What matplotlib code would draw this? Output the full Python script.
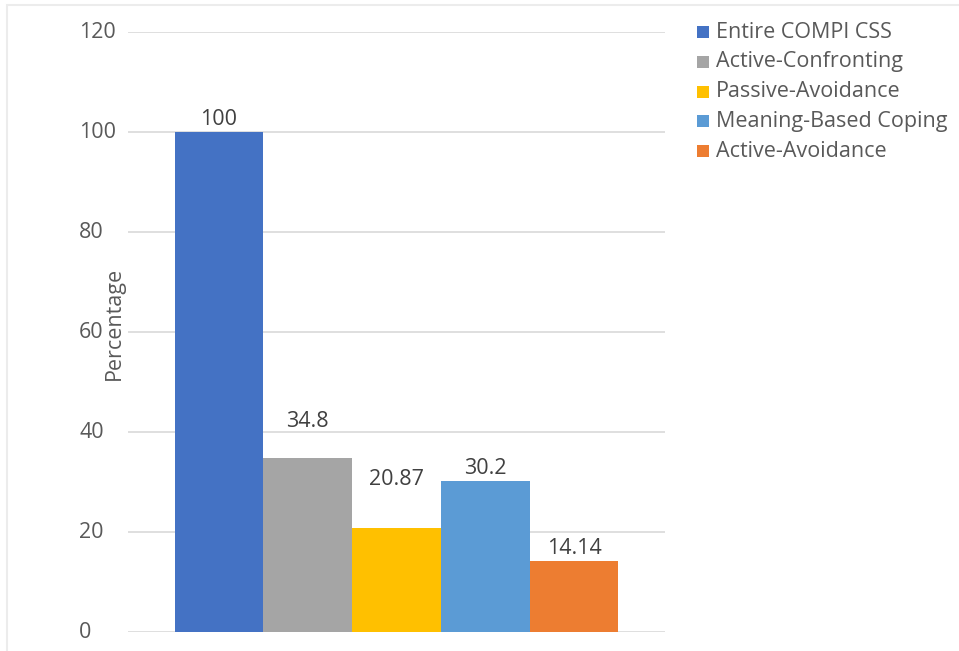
import matplotlib.pyplot as plt
from matplotlib.patches import Rectangle

categories = ["Entire COMPI CSS", "Active-Confronting", "Passive-Avoidance",
              "Meaning-Based Coping", "Active-Avoidance"]
values = [100, 34.8, 20.87, 30.2, 14.14]
value_labels = ["100", "34.8", "20.87", "30.2", "14.14"]
colors = ["#4472c4", "#a5a5a5", "#ffc000", "#5b9bd5", "#ed7d31"]
yticks = [0, 20, 40, 60, 80, 100, 120]

# some labels were dragged upwards in the original chart (offsets in points)
label_offsets = [9, 26.5, 35, 9, 9]

plt.rcParams['font.family'] = ['Open Sans', 'DejaVu Sans']
FS = 15.5
TXT = '#595959'

W, H = 959, 651
fig = plt.figure(figsize=(W / 100, H / 100), dpi=100)
ax = fig.add_axes([128 / W, 19 / H, 537 / W, 600 / H])

# light frame of the screenshot
fig.patches.append(Rectangle((7 / W, -0.01), 1.0, 1 - 5 / H + 0.01,
                             transform=fig.transFigure, fill=False,
                             edgecolor='#ececec', linewidth=1.5))

x = list(range(len(values)))
ax.bar(x, values, width=1.0, color=colors, zorder=3)

for xi, v, lab, off in zip(x, values, value_labels, label_offsets):
    ax.annotate(lab, (xi, v), xytext=(0, off), textcoords='offset points',
                ha='center', va='center', fontsize=FS, color='#404040')

ax.set_xlim(-1.025, 5.025)
ax.set_ylim(0, 120)
ax.set_yticks(yticks)
ax.set_yticklabels([])
ax.set_xticks([])
ax.yaxis.grid(True, color='#d9d9d9', linewidth=1.2, zorder=0)
for s in ax.spines.values():
    s.set_visible(False)
ax.tick_params(axis='y', length=0)

# tick labels are left aligned in the original
for t in yticks:
    ax.annotate(str(t), (0, t), xycoords=('figure fraction', 'data'),
                xytext=(79, 0), textcoords='offset pixels',
                ha='left', va='center', fontsize=FS, color=TXT)

fig.text(114 / W, 1 - 323 / H, "Percentage", rotation=90, ha='center', va='center',
         fontsize=FS, color=TXT)

# legend
for i, (c, name) in enumerate(zip(colors, categories)):
    yc = 32 + 29.8 * i
    fig.patches.append(Rectangle((697 / W, 1 - (yc + 6) / H), 12 / W, 12 / H,
                                 transform=fig.transFigure, facecolor=c, edgecolor='none'))
    fig.text(716 / W, 1 - yc / H, name, ha='left', va='center', fontsize=FS, color=TXT)

fig.savefig("out.png", dpi=100)
